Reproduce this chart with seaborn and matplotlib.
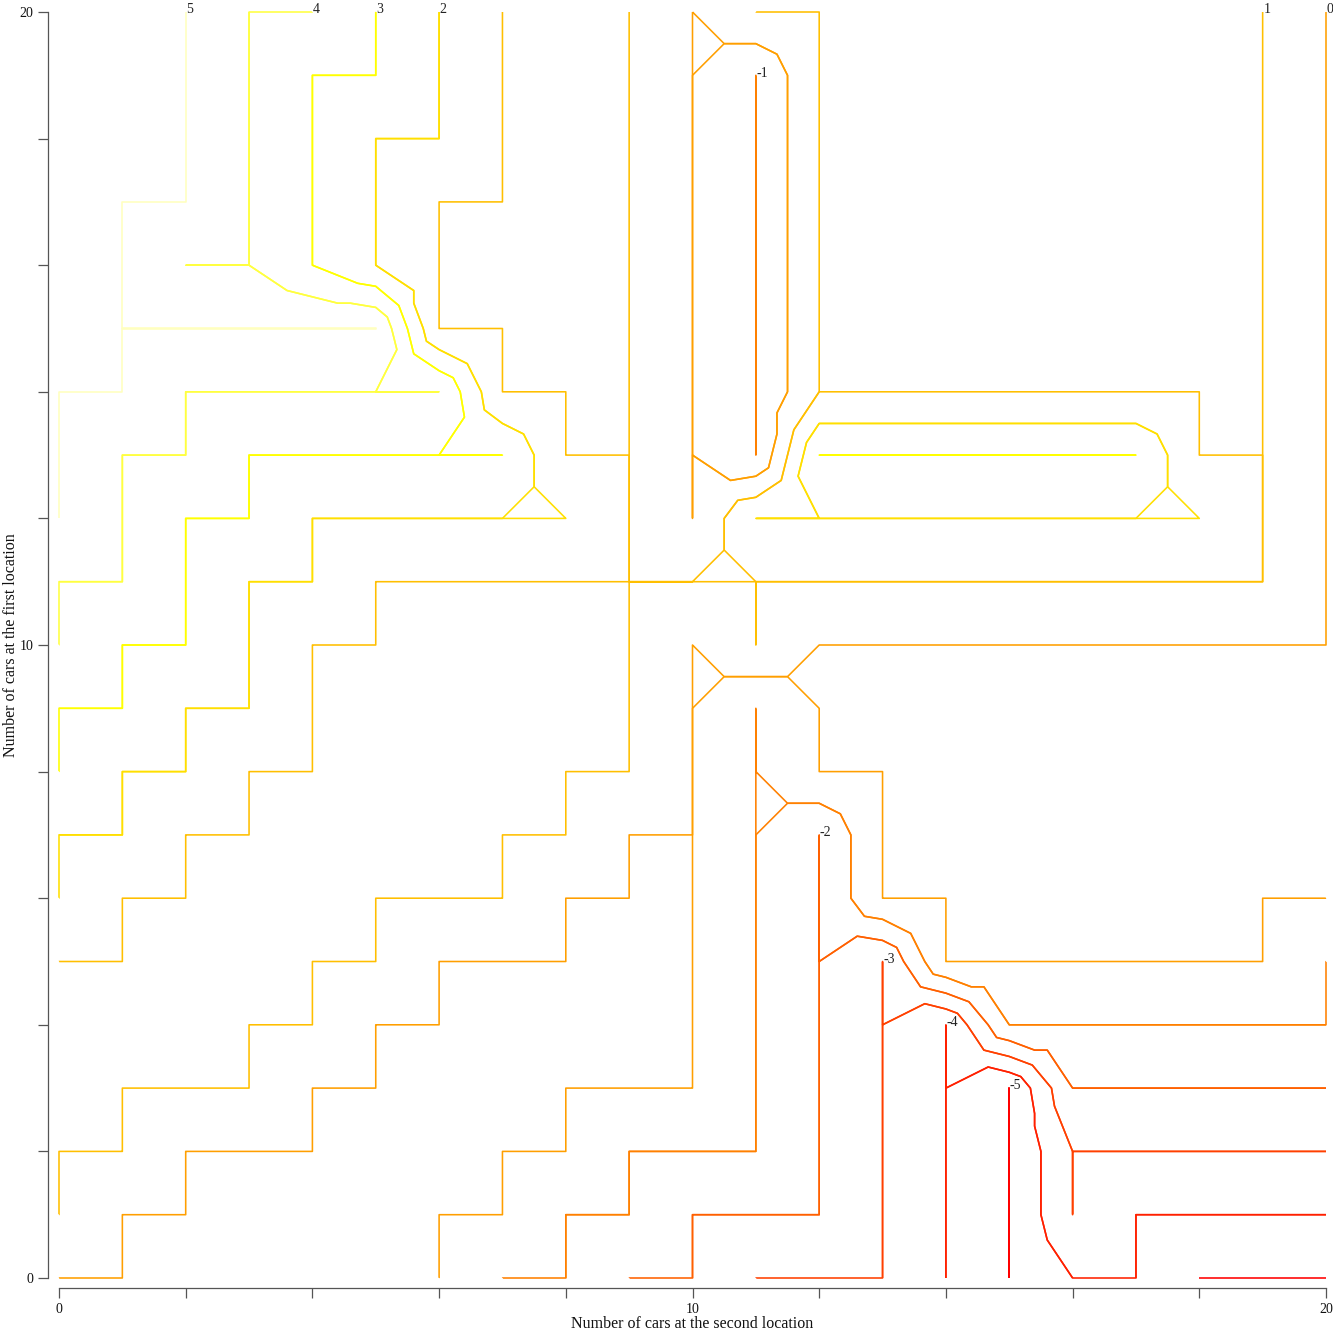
import numpy as np
import matplotlib
matplotlib.use("Agg")
import matplotlib.pyplot as plt
import matplotlib.tri as mtri
import seaborn as sns

# Policy: row index = cars at the first location (0..20),
#         column index = cars at the second location (0..20)
ROW_0  = [0, 0, 0, 0, 0, 0, 0, -1, -1, -2, -2, -3, -3, -3, -4, -5, -4, -4, -5, -5, -5]
ROW_1  = [1, 0, 0, 0, 0, 0, 0, 0, -1, -1, -2, -2, -2, -3, -4, -5, -3, -4, -4, -4, -4]
ROW_2  = [1, 1, 0, 0, 0, 0, 0, 0, 0, -1, -1, -1, -2, -3, -4, -5, -3, -3, -3, -3, -3]
ROW_3  = [1, 1, 1, 1, 0, 0, 0, 0, 0, 0, 0, -1, -2, -3, -4, -5, -2, -2, -2, -2, -2]
ROW_4  = [1, 1, 1, 1, 1, 0, 0, 0, 0, 0, 0, -1, -2, -3, -4, -1, -1, -1, -1, -1, -1]
ROW_5  = [1, 1, 1, 1, 1, 1, 0, 0, 0, 0, 0, -1, -2, -3, 0, 0, 0, 0, 0, 0, -1]
ROW_6  = [2, 1, 1, 1, 1, 1, 1, 1, 0, 0, 0, -1, -2, 0, 0, 0, 0, 0, 0, 0, 0]
ROW_7  = [2, 2, 1, 1, 1, 1, 1, 1, 1, 0, 0, -1, -2, 0, 0, 0, 0, 0, 0, 0, 0]
ROW_8  = [3, 2, 2, 1, 1, 1, 1, 1, 1, 1, 0, -1, 0, 0, 0, 0, 0, 0, 0, 0, 0]
ROW_9  = [3, 3, 2, 2, 1, 1, 1, 1, 1, 1, 0, -1, 0, 0, 0, 0, 0, 0, 0, 0, 0]
ROW_10 = [4, 3, 3, 2, 1, 1, 1, 1, 1, 1, 0, 1, 0, 0, 0, 0, 0, 0, 0, 0, 0]
ROW_11 = [4, 4, 3, 2, 2, 1, 1, 1, 1, 1, 1, 1, 1, 1, 1, 1, 1, 1, 1, 1, 0]
ROW_12 = [5, 4, 3, 3, 2, 2, 2, 2, 2, 1, 0, 2, 2, 2, 2, 2, 2, 2, 2, 1, 0]
ROW_13 = [5, 4, 4, 3, 3, 3, 3, 3, 1, 1, 0, -1, 3, 3, 3, 3, 3, 3, 1, 1, 0]
ROW_14 = [5, 5, 4, 4, 4, 4, 4, 1, 1, 1, 0, -1, 1, 1, 1, 1, 1, 1, 1, 1, 0]
ROW_15 = [5, 5, 5, 5, 5, 5, 1, 1, 1, 1, 0, -1, 1, 1, 1, 1, 1, 1, 1, 1, 0]
ROW_16 = [5, 5, 4, 4, 3, 2, 1, 1, 1, 1, 0, -1, 1, 1, 1, 1, 1, 1, 1, 1, 0]
ROW_17 = [5, 5, 5, 4, 3, 2, 1, 1, 1, 1, 0, -1, 1, 1, 1, 1, 1, 1, 1, 1, 0]
ROW_18 = [5, 5, 5, 4, 3, 2, 2, 1, 1, 1, 0, -1, 1, 1, 1, 1, 1, 1, 1, 1, 0]
ROW_19 = [5, 5, 5, 4, 3, 3, 2, 1, 1, 1, 0, -1, 1, 1, 1, 1, 1, 1, 1, 1, 0]
ROW_20 = [5, 5, 5, 4, 4, 3, 2, 1, 1, 1, 0, 1, 1, 1, 1, 1, 1, 1, 1, 1, 0]

LEVELS = [-5, -4, -3, -2, -1, 0, 1, 2, 3, 4, 5]
LEVEL_COLORS = ["#FF0000", "#FF2000", "#FF4000", "#FF6000", "#FF8000", "#FF9F00",
                "#FFBF00", "#FFDF00", "#FFFF00", "#FFFF40", "#FFFFBF"]
TICKS = [0, 2, 4, 6, 8, 10, 12, 14, 16, 18, 20]
TICK_LABELS = ["0", "", "", "", "", "10", "", "", "", "", "20"]

W = H = 1333
AXIS_GREY = "#555555"


def build_triangulation(policy):
    """Grid nodes plus one centre point per cell (mean of its corners), 4 triangles per cell."""
    n = policy.shape[0]
    gx, gy = np.meshgrid(np.arange(n), np.arange(n))
    cx = gx[:-1, :-1] + 0.5
    cy = gy[:-1, :-1] + 0.5
    cz = 0.25 * (policy[:-1, :-1] + policy[:-1, 1:] + policy[1:, :-1] + policy[1:, 1:])

    x = np.concatenate([gx.ravel(), cx.ravel()]).astype(float)
    y = np.concatenate([gy.ravel(), cy.ravel()]).astype(float)
    z = np.concatenate([policy.ravel(), cz.ravel()])

    tris = []
    for j in range(n - 1):
        for i in range(n - 1):
            a = j * n + i
            b = a + 1
            d = a + n
            c = d + 1
            m = n * n + j * (n - 1) + i
            tris += [[a, b, m], [b, c, m], [c, d, m], [d, a, m]]
    return mtri.Triangulation(x, y, np.array(tris)), z


def main():
    policy = np.array([ROW_0, ROW_1, ROW_2, ROW_3, ROW_4, ROW_5, ROW_6, ROW_7,
                       ROW_8, ROW_9, ROW_10, ROW_11, ROW_12, ROW_13, ROW_14,
                       ROW_15, ROW_16, ROW_17, ROW_18, ROW_19, ROW_20], dtype=float)

    sns.set_theme(style="ticks")
    plt.rcParams["font.family"] = ["Liberation Serif", "DejaVu Serif"]

    fig = plt.figure(figsize=(W / 100, H / 100), dpi=100)
    ax = fig.add_axes([59 / W, 55 / H, 1267 / W, 1266 / H])

    tri, z = build_triangulation(policy)

    # each level is traced on both sides of its plateau (just below and just above the value)
    eps = 1e-6
    levels, colors = [], []
    for lev, col in zip(LEVELS, LEVEL_COLORS):
        levels += [lev - eps, lev + eps]
        colors += [col, col]
    cs = ax.tricontour(tri, z, levels=levels, colors=colors, linewidths=1.15)
    cs.set_clip_on(False)

    # label each level at the right end of the highest row where it occurs
    for lev in LEVELS:
        rows = np.where((policy == lev).any(axis=1))[0]
        if len(rows) == 0:
            continue
        r = rows.max()
        c = np.where(policy[r] == lev)[0].max()
        ax.annotate(str(lev), (c, r), xytext=(0.5, -1.0), textcoords="offset points",
                    ha="left", va="baseline", fontsize=10, color="#222222",
                    annotation_clip=False)

    ax.set_xlim(0, 20)
    ax.set_ylim(0, 20)
    ax.set_xticks(TICKS)
    ax.set_xticklabels(TICK_LABELS)
    ax.set_yticks(TICKS)
    ax.set_yticklabels(TICK_LABELS)

    for side in ["top", "right"]:
        ax.spines[side].set_visible(False)
    ax.spines["left"].set_position(("outward", 7.9))
    ax.spines["bottom"].set_position(("outward", 7.2))
    ax.spines["left"].set_bounds(0, 20)
    ax.spines["bottom"].set_bounds(0, 20)
    for side in ["left", "bottom"]:
        ax.spines[side].set_color(AXIS_GREY)
        ax.spines[side].set_linewidth(0.9)

    ax.tick_params(axis="both", direction="out", length=7.5, width=0.9,
                   color=AXIS_GREY, labelsize=10, labelcolor="#111111", pad=3)
    ax.set_facecolor("white")

    ax.set_xlabel("Number of cars at the second location", fontsize=11.5, color="#111111")
    ax.set_ylabel("Number of cars at the first location", fontsize=11.5, color="#111111")
    ax.xaxis.set_label_coords(0.5, -0.0300)
    ax.yaxis.set_label_coords(-0.0312, 0.5)

    fig.savefig("out.png", dpi=100, facecolor="white")


if __name__ == "__main__":
    main()
